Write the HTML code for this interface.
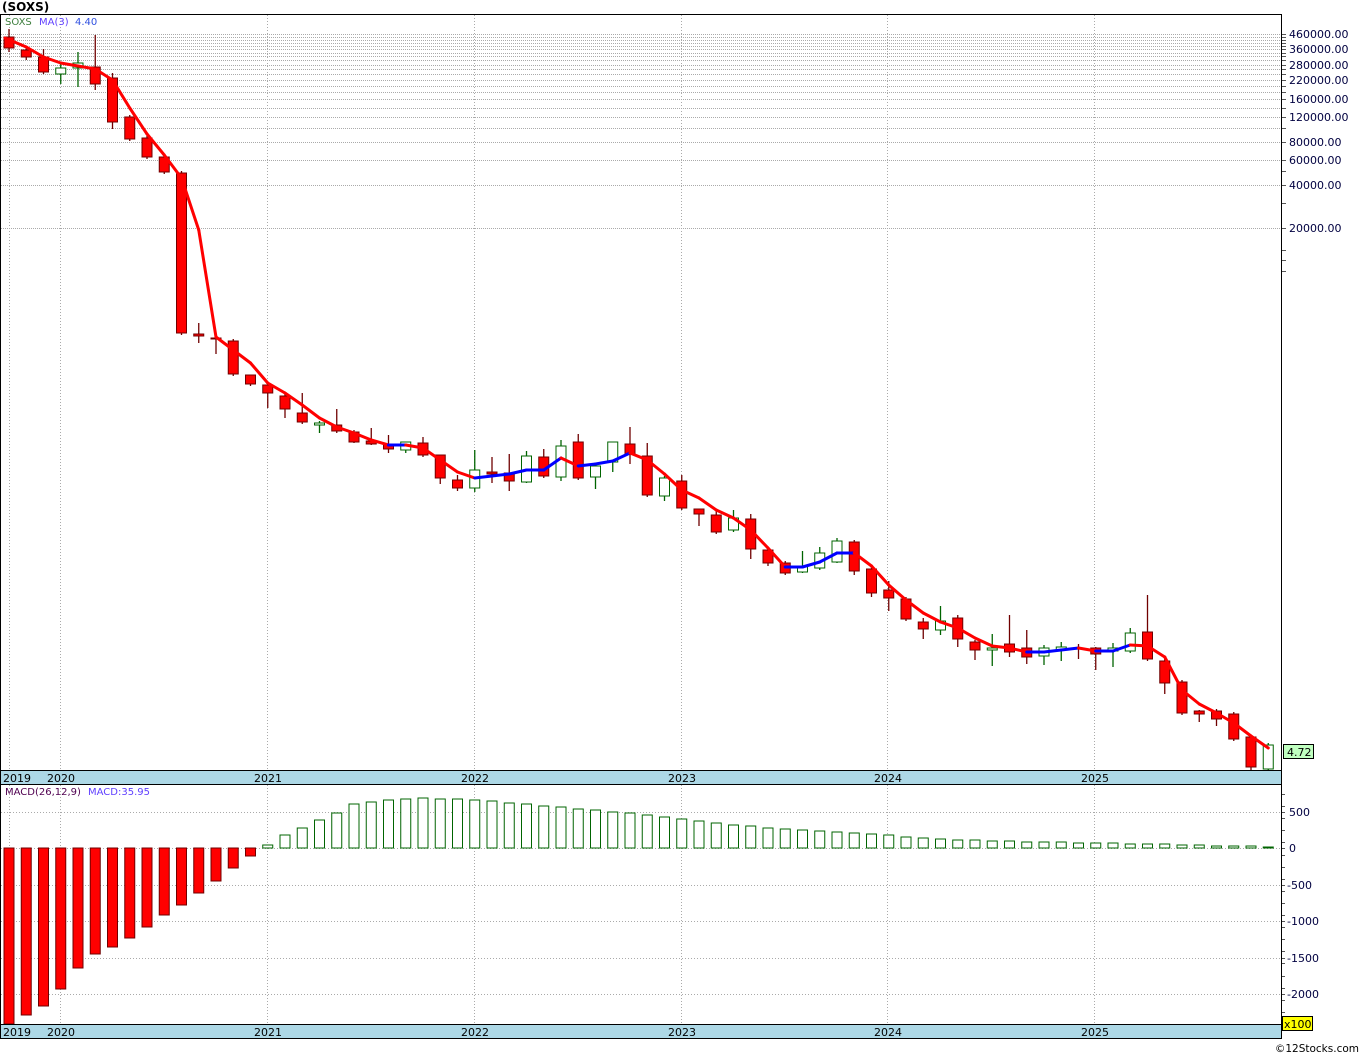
<!DOCTYPE html>
<html><head><meta charset="utf-8"><style>
html,body{margin:0;padding:0;background:#fff;width:1360px;height:1056px;overflow:hidden}
svg{display:block}
text{font-family:"DejaVu Sans","Liberation Sans",sans-serif;font-size:11px}
</style></head><body>
<svg id="s" width="1360" height="1056" xmlns="http://www.w3.org/2000/svg"></svg>
<script>
const s=document.getElementById('s');let h='';
function add(x){h+=x;}
const C=[[37,48,29,52,0],[50,57,48,60,0],[57,72,49,74,0],[68,74,62,84,1],[63,68,52,87,1],[67,84,35,90,0],[78,122,73,129,0],[117,139,115,141,0],[138,157,136,159,0],[157,172,155,174,0],
[173,333,171,335,0],[334,336,323,343,0],[338,339,338,354,0],[341,374,339,376,0],[375,384,375,386,0],[385,393,385,408,0],[396,409,393,418,0],[413,422,393,424,0],[423,425,421,433,1],[425,431,409,433,0],
[432,442,430,443,0],[441,444,428,445,0],[444,449,435,453,0],[442,450,442,453,1],[443,455,437,457,0],[455,478,455,484,0],[480,488,475,491,0],[470,488,450,492,1],[472,474,457,483,0],[473,481,454,491,0],
[456,482,451,483,1],[457,476,449,478,0],[446,477,440,481,1],[442,478,434,480,0],[466,477,464,489,1],[442,462,442,472,1],[444,454,427,464,0],[456,495,443,497,0],[478,496,476,501,1],[481,508,475,510,0],
[509,514,509,526,0],[515,532,510,534,0],[518,530,510,532,1],[519,549,514,559,0],[550,563,548,566,0],[563,573,561,575,0],[566,572,551,573,1],[553,568,547,570,1],[541,562,538,563,1],[542,571,540,575,0],
[569,593,567,597,0],[590,598,581,611,0],[599,619,597,621,0],[622,629,618,639,0],[621,630,606,635,1],[618,639,615,647,0],[642,650,640,660,0],[648,650,634,666,1],[644,652,615,657,0],[648,657,630,664,0],
[648,656,645,665,1],[647,650,642,661,1],[648,649,644,659,0],[648,654,647,670,0],[648,651,643,667,1],[633,651,628,653,1],[632,659,595,661,0],[661,683,659,694,0],[682,713,680,715,0],[711,714,710,722,0],
[711,719,709,726,0],[714,739,712,741,0],[737,767,735,770,0],[745,769,743,770,1]];
const MA=[38,47,57,63,66,69,80,108,134,155,178,230,337,350,363,383,393,405,418,427,433,440,445,445,448,460,472,478,476,474,470,470,458,466,464,461,453,460,474,490,498,510,518,530,548,567,567,562,553,553,566,585,600,613,622,628,638,646,648,652,652,650,648,651,651,645,646,657,690,704,713,723,736,748];
const MB=[1024,1015,1006,989,968,954,947,938,927,915,905,893,881,868,856];
const MT=[845,835,828,820,813,804,802,800,799,798,799,799,800,801,803,804,806,807,809,810,812,813,815,817,819,821,823,825,826,828,829,830,831,832,833,834,835,837,838,839,840,840,841,841,842,842,842,843,843,843,844,844,844,845,845,846,846,846,847];
const X=i=>9+i*17.25;
add('<rect x="0.5" y="14.5" width="1281" height="1010" fill="#fff" stroke="#000"/>');
const lg=v=>34+(Math.log10(460000)-Math.log10(v))*142.5;
const labs=[460000,360000,280000,220000,160000,120000,80000,60000,40000,20000];
const extra=[440000,420000,400000,380000,340000,320000,300000,260000,240000,200000,180000,140000,100000];
extra.concat(labs).forEach(v=>{const y=Math.round(lg(v))+.5;add(`<line x1="1" x2="1281" y1="${y}" y2="${y}" stroke="#aaa" stroke-dasharray="1,1"/><line x1="1281" x2="1286" y1="${y}" y2="${y}" stroke="#555"/>`);});
[30000,50000,10000,12000,14000].forEach(v=>{const y=Math.round(lg(v))+.5;add(`<line x1="1281" x2="1286" y1="${y}" y2="${y}" stroke="#555"/>`);});
labs.forEach(v=>{const y=Math.round(lg(v));add(`<text x="1289" y="${y+4}" fill="#000040">${v}.00</text>`);});
const yrs=[[60,'2020'],[267,'2021'],[474,'2022'],[681,'2023'],[887,'2024'],[1094,'2025']];
yrs.forEach(([x])=>{add(`<line x1="${x+.5}" x2="${x+.5}" y1="15" y2="770" stroke="#aaa" stroke-dasharray="1,2"/><line x1="${x+.5}" x2="${x+.5}" y1="785" y2="1024" stroke="#aaa" stroke-dasharray="1,2"/>`);});
add(`<line x1="9.5" x2="9.5" y1="15" y2="770" stroke="#aaa" stroke-dasharray="1,2"/><line x1="9.5" x2="9.5" y1="785" y2="1024" stroke="#aaa" stroke-dasharray="1,2"/>`);
C.forEach((c,i)=>{const x=X(i);const col=c[4]?'#006400':'#700000';
add(`<line x1="${x}" x2="${x}" y1="${c[2]}" y2="${c[3]}" stroke="${col}" stroke-width="1.3"/>`);
add(`<rect x="${x-5}" y="${c[0]}" width="10" height="${Math.max(1,c[1]-c[0])}" fill="${c[4]?'#fff':'#f00'}" stroke="${col}" stroke-width="1"/>`);});
for(let i=0;i<MA.length-1;i++){const col=MA[i+1]<=MA[i]-1||(MA[i+1]==MA[i]&&i>20)?'#00f':'#f00';
add(`<line x1="${i==0?5:X(i)}" y1="${MA[i]}" x2="${X(i+1)}" y2="${MA[i+1]}" stroke="${col}" stroke-width="3" stroke-linecap="round"/>`);}
add('<rect x="0.5" y="770.5" width="1281" height="14" fill="#add8e6" stroke="#000"/>');
add('<rect x="0.5" y="1024.5" width="1281" height="14" fill="#add8e6" stroke="#000"/>');
[[771,782],[1025,1036]].forEach(([a,ty])=>{add(`<text x="3" y="${ty}" fill="#000">2019</text>`);yrs.forEach(([x,t])=>add(`<text x="${x-13}" y="${ty}" fill="#000">${t}</text>`));});
[[812,'500'],[848,'0'],[885,'-500'],[921,'-1000'],[958,'-1500'],[994,'-2000']].forEach(([y,t])=>{add(`<line x1="1" x2="1281" y1="${y+.5}" y2="${y+.5}" stroke="#aaa" stroke-dasharray="1,2"/><line x1="1281" x2="1285" y1="${y+.5}" y2="${y+.5}" stroke="#555"/><text x="${t[0]=='-'?1287:1289}" y="${y+4}" fill="#000040">${t}</text>`);});
for(let y=794;y<1020;y+=12.1)add(`<line x1="1281" x2="1285" y1="${Math.round(y)+.5}" y2="${Math.round(y)+.5}" stroke="#555"/>`);
MB.forEach((b,i)=>{const x=X(i);add(`<rect x="${x-5}" y="848" width="10" height="${Math.min(b,1024)-848}" fill="#f00" stroke="#700000"/>`);});
MT.forEach((t,i)=>{const x=X(i+15);add(`<rect x="${x-5}" y="${t}" width="10" height="${848-t}" fill="#fff" stroke="#006400"/>`);});
add('<rect x="0.5" y="784.5" width="1281" height="240" fill="none" stroke="#000"/>');
add('<line x1="1281.5" x2="1281.5" y1="14" y2="1039" stroke="#000"/>');
add('<text x="2" y="11" style="font-weight:bold;font-size:12px">(SOXS)</text>');
add('<text x="5" y="25" fill="#408040" style="font-size:10px">SOXS</text><text x="39" y="25" fill="#6040ff" style="font-size:10px">MA(3)</text><text x="75" y="25" fill="#3050e0" style="font-size:10px">4.40</text>');
add('<text x="5" y="795" fill="#500050" style="font-size:10px">MACD(26,12,9)</text><text x="88" y="795" fill="#6040ff" style="font-size:10px">MACD:35.95</text>');
add('<rect x="1283.5" y="744.5" width="30" height="14" fill="#c0ffc0" stroke="#000"/><text x="1287" y="756">4.72</text>');
add('<rect x="1282.5" y="1016.5" width="30" height="14" fill="#ffff00" stroke="#000"/><text x="1284" y="1028">x100</text>');
add('<text x="1359" y="1052" text-anchor="end" style="font-size:10.5px">©12Stocks.com</text>');
s.innerHTML=h;
</script>
</body></html>
